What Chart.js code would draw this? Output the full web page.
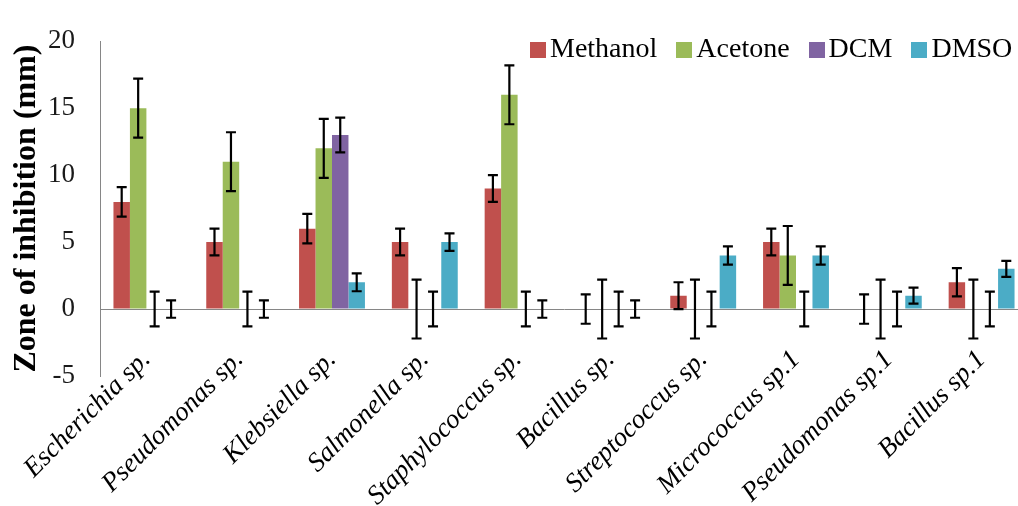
<!DOCTYPE html>
<html>
<head>
<meta charset="utf-8">
<script src="https://cdn.jsdelivr.net/npm/chart.js@4"></script>
<style>
  html, body { margin: 0; padding: 0; background: #fff; overflow: hidden; }
  #wrap { position: relative; width: 1030px; height: 506px; }
  #legend {
    position: absolute; top: 33px; left: 530px;
    font-family: "Liberation Serif", serif; font-size: 28px; line-height: 30px;
    color: #000; white-space: nowrap;
  }
  #legend .item { display: inline-block; margin-right: 19px; }
  #legend .box { display: inline-block; width: 16px; height: 16px; margin-right: 4px; vertical-align: -1px; }
</style>
</head>
<body>
<div id="wrap">
  <canvas id="grafico"></canvas>
  <div id="legend"></div>
</div>
<script>
const categorias = ['Escherichia sp.', 'Pseudomonas sp.', 'Klebsiella sp.', 'Salmonella sp.', 'Staphylococcus sp.',
  'Bacillus sp.', 'Streptococcus sp.', 'Micrococcus sp.1', 'Pseudomonas sp.1', 'Bacillus sp.1'];

const methanol = [8, 5, 6, 5, 9, 0, 1, 5, 0, 2];
const acetone = [15, 11, 12, 0, 16, 0, 0, 4, 0, 0];
const dcm = [0, 0, 13, 0, 0, 0, 0, 0, 0, 0];
const dmso = [0, 0, 2, 5, 0, 0, 4, 4, 1, 3];

// desvio (barra de erro) de cada coluna
const methanolErr = [1.1, 1, 1.1, 1, 1, 1.1, 1, 1, 1.1, 1.05];
const acetoneErr = [2.2, 2.2, 2.2, 2.2, 2.2, 2.2, 2.2, 2.2, 2.2, 2.2];
const dcmErr = [1.3, 1.3, 1.3, 1.3, 1.3, 1.3, 1.3, 1.3, 1.3, 1.3];
const dmsoErr = [0.65, 0.65, 0.67, 0.65, 0.65, 0.65, 0.68, 0.68, 0.6, 0.6];

const yTicks = [-5, 0, 5, 10, 15, 20];

const serie = (label, data, errors, cor) => ({
  label, data, errors, backgroundColor: cor, borderWidth: 0
});

const datasets = [
  serie('Methanol', methanol, methanolErr, '#C0504D'),
  serie('Acetone', acetone, acetoneErr, '#9BBB59'),
  serie('DCM', dcm, dcmErr, '#8064A2'),
  serie('DMSO', dmso, dmsoErr, '#4BACC6')
];

const barrasErro = {
  id: 'barrasErro',
  afterDatasetsDraw(chart) {
    const ctx = chart.ctx;
    const y = chart.scales.y;
    ctx.save();
    ctx.strokeStyle = '#000';
    ctx.lineWidth = 2.2;
    chart.data.datasets.forEach((ds, i) => {
      chart.getDatasetMeta(i).data.forEach((bar, j) => {
        const topo = y.getPixelForValue(ds.data[j] + ds.errors[j]);
        const base = y.getPixelForValue(ds.data[j] - ds.errors[j]);
        ctx.beginPath();
        ctx.moveTo(bar.x, topo); ctx.lineTo(bar.x, base);
        ctx.moveTo(bar.x - 5, topo); ctx.lineTo(bar.x + 5, topo);
        ctx.moveTo(bar.x - 5, base); ctx.lineTo(bar.x + 5, base);
        ctx.stroke();
      });
    });
    ctx.restore();
  }
};

new Chart(document.getElementById('grafico').getContext('2d'), {
  type: 'bar',
  data: { labels: categorias, datasets },
  options: {
    responsive: true,
    maintainAspectRatio: false,
    animation: false,
    layout: { padding: { top: 26, right: 2, left: 0, bottom: 0 } },
    datasets: { bar: { categoryPercentage: 0.71, barPercentage: 1 } },
    plugins: {
      legend: { display: false },
      tooltip: { enabled: false }
    },
    scales: {
      x: {
        grid: { display: false },
        border: { display: false },
        ticks: {
          autoSkip: false,
          minRotation: 45,
          maxRotation: 45,
          padding: -40,
          color: '#000',
          font: { family: 'Liberation Serif', size: 27, style: 'italic' }
        },
        afterFit: s => {
          s.height = 130;
          // rotulos sobem acima da base da area do grafico, sem recorte
          s._computeLabelArea = () => undefined;
        }
      },
      y: {
        min: -5,
        max: 20,
        afterBuildTicks: s => { s.ticks = yTicks.map(v => ({ value: v })); },
        grid: {
          drawTicks: false,
          color: c => (c.tick && c.tick.value === 0) ? '#868686' : 'rgba(0,0,0,0)'
        },
        border: { display: true, color: '#868686', width: 1 },
        ticks: {
          padding: 25,
          color: '#1a1a1a',
          font: { family: 'Liberation Serif', size: 27 }
        },
        title: {
          display: true,
          text: 'Zone of inhibition (mm)',
          color: '#000',
          padding: { top: 8, bottom: 0 },
          font: { family: 'Liberation Serif', size: 32, weight: 'bold' }
        },
        afterFit: s => { s.width = 100; }
      }
    }
  },
  plugins: [barrasErro]
});

// legenda em HTML, sobreposta ao grafico como no original
const legenda = document.getElementById('legend');
datasets.forEach(ds => {
  const item = document.createElement('span');
  item.className = 'item';
  item.innerHTML = `<span class="box" style="background:${ds.backgroundColor}"></span>${ds.label}`;
  legenda.appendChild(item);
});
</script>
</body>
</html>
